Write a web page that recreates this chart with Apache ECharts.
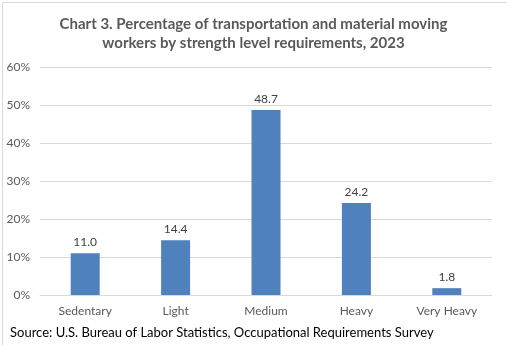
<!DOCTYPE html>
<html><head><meta charset="utf-8">
<script src="https://cdn.jsdelivr.net/npm/echarts@6/dist/echarts.min.js"></script>
<style>html,body{margin:0;padding:0;background:#fff}#c{width:507px;height:345px}</style>
</head><body><div id="c"></div>
<script>
var categories = ['Sedentary', 'Light', 'Medium', 'Heavy', 'Very Heavy'];
var values = [11.0, 14.4, 48.7, 24.2, 1.8];
var titleLines = ['Chart 3. Percentage of transportation and material moving', 'workers by strength level requirements, 2023'];
var sourceText = 'Source: U.S. Bureau of Labor Statistics, Occupational Requirements Survey';

var chart = echarts.init(document.getElementById('c'));
var FONT = 'Lato';
chart.setOption({
  animation: false,
  backgroundColor: '#fff',
  title: {
    text: titleLines.join('\n'),
    left: 'center', top: 10,
    textStyle: { fontFamily: FONT, fontWeight: 'bold', fontSize: 15, color: '#595959', lineHeight: 19 }
  },
  graphic: [
    { type: 'rect', left: 0, top: 0, shape: { width: 506, height: 344 }, style: { fill: 'none', stroke: '#d9d9d9', lineWidth: 1 }, z: 100 },
    { type: 'text', left: 10, top: 326, style: { text: sourceText, fontFamily: FONT, fontSize: 13, fill: '#000' } }
  ],
  grid: { left: 40, right: 15, top: 67, bottom: 50 },
  xAxis: {
    type: 'category', data: categories,
    axisLine: { lineStyle: { color: '#d9d9d9' } },
    axisTick: { show: false },
    axisLabel: { fontFamily: FONT, fontSize: 12, color: '#595959', margin: 10 }
  },
  yAxis: {
    type: 'value', min: 0, max: 60, interval: 10,
    axisLabel: { formatter: '{value}%', fontFamily: FONT, fontSize: 12, color: '#595959', margin: 10 },
    splitLine: { lineStyle: { color: '#d9d9d9' } },
    axisLine: { show: false }, axisTick: { show: false }
  },
  series: [{
    type: 'bar', data: values, barWidth: 29,
    itemStyle: { color: '#4F81BD' },
    label: { show: true, position: 'top', formatter: function (p) { return p.value.toFixed(1); }, fontFamily: FONT, fontSize: 12, color: '#404040', distance: 5 }
  }]
});
</script></body></html>
